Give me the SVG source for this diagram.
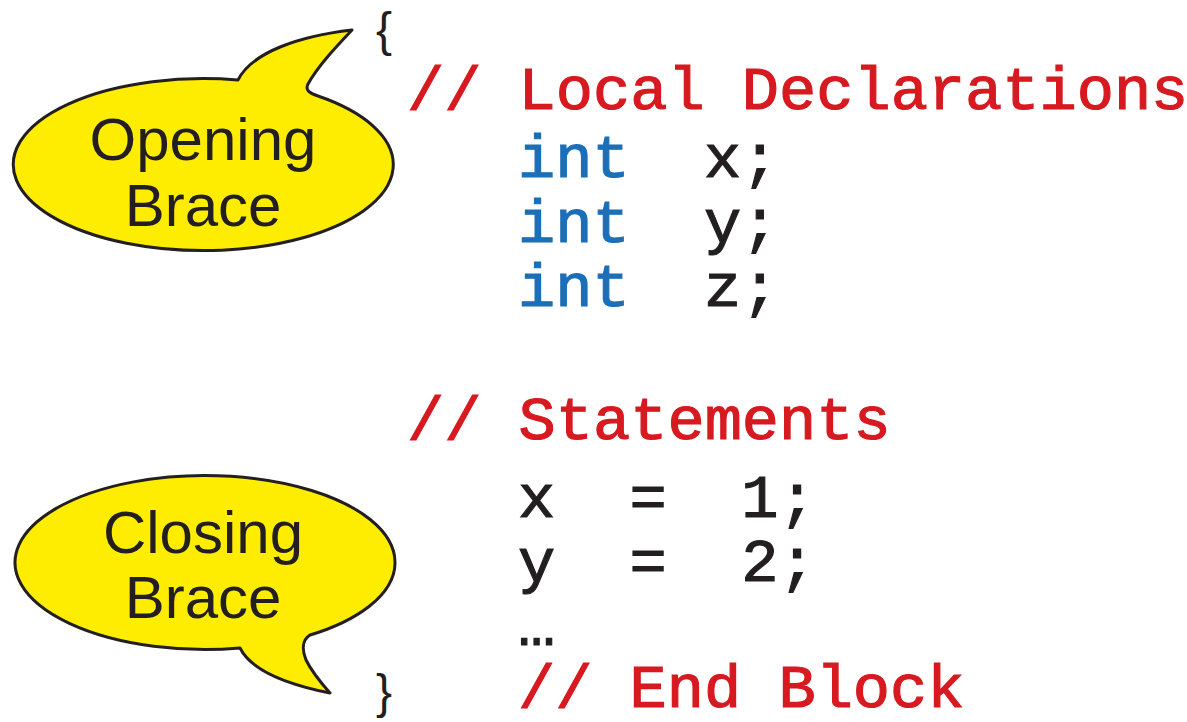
<svg xmlns="http://www.w3.org/2000/svg" width="1187" height="722" viewBox="0 0 1187 722">
<style>
.bubble{fill:#ffed00;stroke:#231f20;stroke-width:3;stroke-linejoin:round}
.lbl{font-family:"Liberation Sans",Arial,sans-serif;font-size:60px;fill:#231f20;text-anchor:middle}
.code{font-family:"Liberation Mono","Courier New",monospace;font-size:62px;white-space:pre}
.red{fill:#d71920;stroke:#d71920;stroke-width:1.2}
.blue{fill:#1b6fb8;stroke:#1b6fb8;stroke-width:1.2}
.blk{fill:#231f20;stroke:#231f20;stroke-width:1.2}
.brace{font-family:"Liberation Sans",Arial,sans-serif;font-size:48px;fill:#231f20}
</style>
<rect width="1187" height="722" fill="#ffffff"/>
<g id="opening-brace-bubble">
<path class="bubble" d="M 238,80 C 252,52 300,36 352,30 C 335,48 318,66 308,84 C 305,90 309,93 318,96 A 190 86 0 1 1 238,80 Z"/>
<text class="lbl" x="203" y="160">Opening</text>
<text class="lbl" x="203" y="226">Brace</text>
</g>
<g id="closing-brace-bubble">
<path class="bubble" d="M 310,635 C 302,640 302,650 306,660 C 312,672 322,684 330,693 C 290,685 252,672 240,648 A 190 87 0 1 1 310,635 Z"/>
<text class="lbl" x="203" y="553">Closing</text>
<text class="lbl" x="203" y="618">Brace</text>
</g>
<g id="code">
<text class="brace" x="376" y="46">{</text>
<text class="code red" x="407" y="109" xml:space="preserve">// Local Declarations</text>
<text class="code" x="518" y="177" xml:space="preserve"><tspan class="blue">int</tspan><tspan class="blk">  x;</tspan></text>
<text class="code" x="518" y="242" xml:space="preserve"><tspan class="blue">int</tspan><tspan class="blk">  y;</tspan></text>
<text class="code" x="518" y="306" xml:space="preserve"><tspan class="blue">int</tspan><tspan class="blk">  z;</tspan></text>
<text class="code red" x="407" y="439" xml:space="preserve">// Statements</text>
<text class="code blk" x="518" y="517" xml:space="preserve">x  =  1;</text>
<text class="code blk" x="518" y="581" xml:space="preserve">y  =  2;</text>
<text class="code blk" x="518" y="645" xml:space="preserve">…</text>
<text class="code red" x="518" y="707" xml:space="preserve">// End Block</text>
<text class="brace" x="376" y="708">}</text>
</g>
<g id="connectors"/>
</svg>
